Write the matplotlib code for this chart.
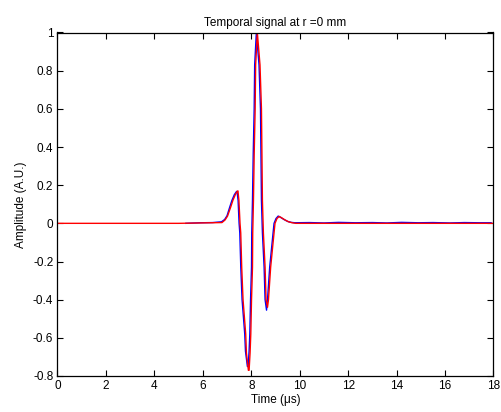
import matplotlib
matplotlib.use("Agg")
import matplotlib.pyplot as plt

# Blue series (measured) - time in microseconds, amplitude in A.U.
blue_t = [5.3, 5.9, 6.4, 6.77, 6.9, 7.0, 7.11, 7.2, 7.3, 7.38, 7.41, 7.456, 7.497, 7.526,
          7.567, 7.62, 7.73, 7.76, 7.84, 7.87, 7.91, 7.94, 7.97, 8.01, 8.02, 8.05, 8.08,
          8.12, 8.14, 8.21, 8.32, 8.38, 8.40, 8.42, 8.46, 8.53, 8.57, 8.63, 8.67, 8.76,
          8.90, 8.94, 9.02, 9.11, 9.2, 9.35, 9.5, 9.65, 9.8, 10.4, 11.0, 11.6, 12.3,
          13.0, 13.6, 14.2, 14.9, 15.5, 16.2, 16.8, 17.4, 17.9]
blue_a = [0.0, 0.003, 0.004, 0.008, 0.02, 0.04, 0.085, 0.12, 0.15, 0.165, 0.168, 0.12, 0.0,
          -0.05, -0.23, -0.40, -0.58, -0.67, -0.75, -0.75, -0.67, -0.58, -0.40, -0.23,
          -0.05, 0.12, 0.36, 0.60, 0.83, 1.0, 0.83, 0.60, 0.36, 0.12, -0.05, -0.23, -0.40,
          -0.455, -0.40, -0.23, -0.05, 0.0, 0.025, 0.038, 0.032, 0.02, 0.01, 0.005, 0.003,
          0.004, 0.002, 0.005, 0.003, 0.004, 0.002, 0.005, 0.003, 0.004, 0.002, 0.004,
          0.003, 0.003]

# Red series (simulated)
red_t = [0.0, 5.0, 6.79, 6.92, 7.02, 7.15, 7.24, 7.34, 7.42, 7.45, 7.49, 7.535, 7.565,
         7.605, 7.66, 7.77, 7.80, 7.88, 7.91, 7.95, 7.98, 8.01, 8.05, 8.06, 8.09, 8.12,
         8.16, 8.18, 8.25, 8.36, 8.42, 8.44, 8.46, 8.50, 8.57, 8.61, 8.67, 8.71, 8.80,
         8.94, 8.98, 9.06, 9.15, 9.24, 9.39, 9.54, 9.69, 9.84, 18.0]
red_a = [0.0, 0.0, 0.004, 0.018, 0.038, 0.085, 0.12, 0.15, 0.168, 0.17, 0.12, 0.0, -0.05,
         -0.23, -0.40, -0.58, -0.68, -0.77, -0.77, -0.68, -0.58, -0.40, -0.23, -0.05,
         0.12, 0.36, 0.60, 0.83, 1.0, 0.83, 0.60, 0.36, 0.12, -0.05, -0.23, -0.40, -0.44,
         -0.40, -0.23, -0.05, 0.0, 0.025, 0.036, 0.03, 0.018, 0.008, 0.003, 0.0, 0.0]

xticks = [0, 2, 4, 6, 8, 10, 12, 14, 16, 18]
yticks = [-0.8, -0.6, -0.4, -0.2, 0, 0.2, 0.4, 0.6, 0.8, 1]
ytick_labels = ["-0.8", "-0.6", "-0.4", "-0.2", "0", "0.2", "0.4", "0.6", "0.8", "1"]

plt.rcParams['font.family'] = ['Liberation Sans', 'DejaVu Sans']
fig = plt.figure(figsize=(5.02, 4.12), dpi=100)
ax = fig.add_axes([57.5 / 502, 36 / 412, 436 / 502, 343.5 / 412])

ax.plot(blue_t, blue_a, color='#0000ff', linewidth=1.0)
ax.plot(red_t, red_a, color='#ff0000', linewidth=1.0)

ax.set_xlim(0, 18)
ax.set_ylim(-0.8, 1)
ax.set_xticks(xticks)
ax.set_xticklabels([str(v) for v in xticks])
ax.set_yticks(yticks)
ax.set_yticklabels(ytick_labels)
ax.tick_params(direction='in', top=True, right=True, length=4, width=0.8,
               labelsize=8.5, pad=3)
for s in ax.spines.values():
    s.set_linewidth(0.9)

ax.set_title("Temporal signal at r =0 mm", fontsize=8.5, pad=5)
ax.set_xlabel("Time (μs)", fontsize=8.5, labelpad=1)
ax.set_ylabel("Amplitude (A.U.)", fontsize=8.5, labelpad=4)

fig.savefig("out.png", dpi=100)
